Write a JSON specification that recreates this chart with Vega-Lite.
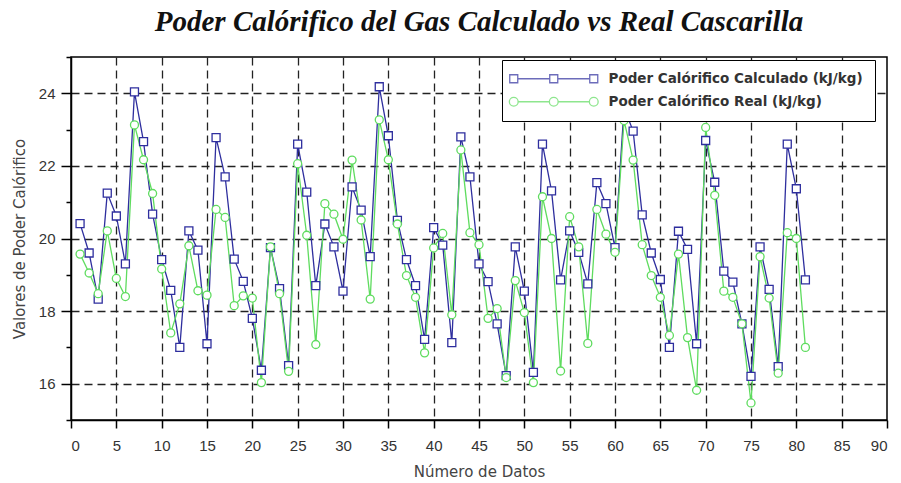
{
  "$schema": "https://vega.github.io/schema/vega-lite/v6.json",
  "autosize": "none",
  "width": 816,
  "height": 363,
  "padding": {"left": 71, "top": 57, "right": 14, "bottom": 63},
  "background": "white",
  "title": {
    "text": "Poder Calórifico del Gas Calculado vs Real Cascarilla",
    "font": "Liberation Serif",
    "fontSize": 29,
    "fontWeight": "bold",
    "fontStyle": "italic",
    "color": "#111",
    "anchor": "middle",
    "offset": 19
  },
  "config": {
    "view": {"stroke": "#000", "strokeWidth": 1.5},
    "axis": {
      "labelFont": "Liberation Sans",
      "labelFontSize": 15,
      "labelColor": "#333",
      "titleFont": "DejaVu Sans",
      "titleFontWeight": "normal",
      "titleColor": "#444",
      "domainColor": "#000",
      "domainWidth": 1.5,
      "tickColor": "#000",
      "tickWidth": 1.5,
      "gridColor": "#222",
      "gridDash": [8, 5],
      "gridWidth": 1.3
    }
  },
  "data": {
    "values": [
      {"n": 1, "serie": "Poder Calórifico Calculado (kJ/kg)", "valor": 20.41},
      {"n": 2, "serie": "Poder Calórifico Calculado (kJ/kg)", "valor": 19.6},
      {"n": 3, "serie": "Poder Calórifico Calculado (kJ/kg)", "valor": 18.33},
      {"n": 4, "serie": "Poder Calórifico Calculado (kJ/kg)", "valor": 21.25},
      {"n": 5, "serie": "Poder Calórifico Calculado (kJ/kg)", "valor": 20.62},
      {"n": 6, "serie": "Poder Calórifico Calculado (kJ/kg)", "valor": 19.3},
      {"n": 7, "serie": "Poder Calórifico Calculado (kJ/kg)", "valor": 24.04},
      {"n": 8, "serie": "Poder Calórifico Calculado (kJ/kg)", "valor": 22.67},
      {"n": 9, "serie": "Poder Calórifico Calculado (kJ/kg)", "valor": 20.67},
      {"n": 10, "serie": "Poder Calórifico Calculado (kJ/kg)", "valor": 19.42},
      {"n": 11, "serie": "Poder Calórifico Calculado (kJ/kg)", "valor": 18.57},
      {"n": 12, "serie": "Poder Calórifico Calculado (kJ/kg)", "valor": 17.0},
      {"n": 13, "serie": "Poder Calórifico Calculado (kJ/kg)", "valor": 20.21},
      {"n": 14, "serie": "Poder Calórifico Calculado (kJ/kg)", "valor": 19.68},
      {"n": 15, "serie": "Poder Calórifico Calculado (kJ/kg)", "valor": 17.1},
      {"n": 16, "serie": "Poder Calórifico Calculado (kJ/kg)", "valor": 22.78},
      {"n": 17, "serie": "Poder Calórifico Calculado (kJ/kg)", "valor": 21.7},
      {"n": 18, "serie": "Poder Calórifico Calculado (kJ/kg)", "valor": 19.43},
      {"n": 19, "serie": "Poder Calórifico Calculado (kJ/kg)", "valor": 18.82},
      {"n": 20, "serie": "Poder Calórifico Calculado (kJ/kg)", "valor": 17.8},
      {"n": 21, "serie": "Poder Calórifico Calculado (kJ/kg)", "valor": 16.37},
      {"n": 22, "serie": "Poder Calórifico Calculado (kJ/kg)", "valor": 19.75},
      {"n": 23, "serie": "Poder Calórifico Calculado (kJ/kg)", "valor": 18.62},
      {"n": 24, "serie": "Poder Calórifico Calculado (kJ/kg)", "valor": 16.5},
      {"n": 25, "serie": "Poder Calórifico Calculado (kJ/kg)", "valor": 22.6},
      {"n": 26, "serie": "Poder Calórifico Calculado (kJ/kg)", "valor": 21.28},
      {"n": 27, "serie": "Poder Calórifico Calculado (kJ/kg)", "valor": 18.7},
      {"n": 28, "serie": "Poder Calórifico Calculado (kJ/kg)", "valor": 20.4},
      {"n": 29, "serie": "Poder Calórifico Calculado (kJ/kg)", "valor": 19.77},
      {"n": 30, "serie": "Poder Calórifico Calculado (kJ/kg)", "valor": 18.55},
      {"n": 31, "serie": "Poder Calórifico Calculado (kJ/kg)", "valor": 21.42},
      {"n": 32, "serie": "Poder Calórifico Calculado (kJ/kg)", "valor": 20.78},
      {"n": 33, "serie": "Poder Calórifico Calculado (kJ/kg)", "valor": 19.5},
      {"n": 34, "serie": "Poder Calórifico Calculado (kJ/kg)", "valor": 24.18},
      {"n": 35, "serie": "Poder Calórifico Calculado (kJ/kg)", "valor": 22.83},
      {"n": 36, "serie": "Poder Calórifico Calculado (kJ/kg)", "valor": 20.5},
      {"n": 37, "serie": "Poder Calórifico Calculado (kJ/kg)", "valor": 19.42},
      {"n": 38, "serie": "Poder Calórifico Calculado (kJ/kg)", "valor": 18.7},
      {"n": 39, "serie": "Poder Calórifico Calculado (kJ/kg)", "valor": 17.22},
      {"n": 40, "serie": "Poder Calórifico Calculado (kJ/kg)", "valor": 20.3},
      {"n": 41, "serie": "Poder Calórifico Calculado (kJ/kg)", "valor": 19.82},
      {"n": 42, "serie": "Poder Calórifico Calculado (kJ/kg)", "valor": 17.13},
      {"n": 43, "serie": "Poder Calórifico Calculado (kJ/kg)", "valor": 22.8},
      {"n": 44, "serie": "Poder Calórifico Calculado (kJ/kg)", "valor": 21.7},
      {"n": 45, "serie": "Poder Calórifico Calculado (kJ/kg)", "valor": 19.3},
      {"n": 46, "serie": "Poder Calórifico Calculado (kJ/kg)", "valor": 18.81},
      {"n": 47, "serie": "Poder Calórifico Calculado (kJ/kg)", "valor": 17.65},
      {"n": 48, "serie": "Poder Calórifico Calculado (kJ/kg)", "valor": 16.22},
      {"n": 49, "serie": "Poder Calórifico Calculado (kJ/kg)", "valor": 19.77},
      {"n": 50, "serie": "Poder Calórifico Calculado (kJ/kg)", "valor": 18.55},
      {"n": 51, "serie": "Poder Calórifico Calculado (kJ/kg)", "valor": 16.31},
      {"n": 52, "serie": "Poder Calórifico Calculado (kJ/kg)", "valor": 22.6},
      {"n": 53, "serie": "Poder Calórifico Calculado (kJ/kg)", "valor": 21.31},
      {"n": 54, "serie": "Poder Calórifico Calculado (kJ/kg)", "valor": 18.86},
      {"n": 55, "serie": "Poder Calórifico Calculado (kJ/kg)", "valor": 20.21},
      {"n": 56, "serie": "Poder Calórifico Calculado (kJ/kg)", "valor": 19.62},
      {"n": 57, "serie": "Poder Calórifico Calculado (kJ/kg)", "valor": 18.75},
      {"n": 58, "serie": "Poder Calórifico Calculado (kJ/kg)", "valor": 21.54},
      {"n": 59, "serie": "Poder Calórifico Calculado (kJ/kg)", "valor": 20.96},
      {"n": 60, "serie": "Poder Calórifico Calculado (kJ/kg)", "valor": 19.75},
      {"n": 61, "serie": "Poder Calórifico Calculado (kJ/kg)", "valor": 23.6},
      {"n": 62, "serie": "Poder Calórifico Calculado (kJ/kg)", "valor": 22.96},
      {"n": 63, "serie": "Poder Calórifico Calculado (kJ/kg)", "valor": 20.65},
      {"n": 64, "serie": "Poder Calórifico Calculado (kJ/kg)", "valor": 19.6},
      {"n": 65, "serie": "Poder Calórifico Calculado (kJ/kg)", "valor": 18.87},
      {"n": 66, "serie": "Poder Calórifico Calculado (kJ/kg)", "valor": 17.0},
      {"n": 67, "serie": "Poder Calórifico Calculado (kJ/kg)", "valor": 20.2},
      {"n": 68, "serie": "Poder Calórifico Calculado (kJ/kg)", "valor": 19.7},
      {"n": 69, "serie": "Poder Calórifico Calculado (kJ/kg)", "valor": 17.1},
      {"n": 70, "serie": "Poder Calórifico Calculado (kJ/kg)", "valor": 22.7},
      {"n": 71, "serie": "Poder Calórifico Calculado (kJ/kg)", "valor": 21.55},
      {"n": 72, "serie": "Poder Calórifico Calculado (kJ/kg)", "valor": 19.1},
      {"n": 73, "serie": "Poder Calórifico Calculado (kJ/kg)", "valor": 18.8},
      {"n": 74, "serie": "Poder Calórifico Calculado (kJ/kg)", "valor": 17.65},
      {"n": 75, "serie": "Poder Calórifico Calculado (kJ/kg)", "valor": 16.2},
      {"n": 76, "serie": "Poder Calórifico Calculado (kJ/kg)", "valor": 19.77},
      {"n": 77, "serie": "Poder Calórifico Calculado (kJ/kg)", "valor": 18.6},
      {"n": 78, "serie": "Poder Calórifico Calculado (kJ/kg)", "valor": 16.47},
      {"n": 79, "serie": "Poder Calórifico Calculado (kJ/kg)", "valor": 22.6},
      {"n": 80, "serie": "Poder Calórifico Calculado (kJ/kg)", "valor": 21.37},
      {"n": 81, "serie": "Poder Calórifico Calculado (kJ/kg)", "valor": 18.86},
      {"n": 1, "serie": "Poder Calórifico Real (kJ/kg)", "valor": 19.57},
      {"n": 2, "serie": "Poder Calórifico Real (kJ/kg)", "valor": 19.05},
      {"n": 3, "serie": "Poder Calórifico Real (kJ/kg)", "valor": 18.48},
      {"n": 4, "serie": "Poder Calórifico Real (kJ/kg)", "valor": 20.21},
      {"n": 5, "serie": "Poder Calórifico Real (kJ/kg)", "valor": 18.9},
      {"n": 6, "serie": "Poder Calórifico Real (kJ/kg)", "valor": 18.4},
      {"n": 7, "serie": "Poder Calórifico Real (kJ/kg)", "valor": 23.13},
      {"n": 8, "serie": "Poder Calórifico Real (kJ/kg)", "valor": 22.17},
      {"n": 9, "serie": "Poder Calórifico Real (kJ/kg)", "valor": 21.24},
      {"n": 10, "serie": "Poder Calórifico Real (kJ/kg)", "valor": 19.16},
      {"n": 11, "serie": "Poder Calórifico Real (kJ/kg)", "valor": 17.4},
      {"n": 12, "serie": "Poder Calórifico Real (kJ/kg)", "valor": 18.2},
      {"n": 13, "serie": "Poder Calórifico Real (kJ/kg)", "valor": 19.8},
      {"n": 14, "serie": "Poder Calórifico Real (kJ/kg)", "valor": 18.56},
      {"n": 15, "serie": "Poder Calórifico Real (kJ/kg)", "valor": 18.44},
      {"n": 16, "serie": "Poder Calórifico Real (kJ/kg)", "valor": 20.8},
      {"n": 17, "serie": "Poder Calórifico Real (kJ/kg)", "valor": 20.58},
      {"n": 18, "serie": "Poder Calórifico Real (kJ/kg)", "valor": 18.15},
      {"n": 19, "serie": "Poder Calórifico Real (kJ/kg)", "valor": 18.42},
      {"n": 20, "serie": "Poder Calórifico Real (kJ/kg)", "valor": 18.36},
      {"n": 21, "serie": "Poder Calórifico Real (kJ/kg)", "valor": 16.03},
      {"n": 22, "serie": "Poder Calórifico Real (kJ/kg)", "valor": 19.77},
      {"n": 23, "serie": "Poder Calórifico Real (kJ/kg)", "valor": 18.48},
      {"n": 24, "serie": "Poder Calórifico Real (kJ/kg)", "valor": 16.34},
      {"n": 25, "serie": "Poder Calórifico Real (kJ/kg)", "valor": 22.06},
      {"n": 26, "serie": "Poder Calórifico Real (kJ/kg)", "valor": 20.09},
      {"n": 27, "serie": "Poder Calórifico Real (kJ/kg)", "valor": 17.08},
      {"n": 28, "serie": "Poder Calórifico Real (kJ/kg)", "valor": 20.96},
      {"n": 29, "serie": "Poder Calórifico Real (kJ/kg)", "valor": 20.67},
      {"n": 30, "serie": "Poder Calórifico Real (kJ/kg)", "valor": 19.98},
      {"n": 31, "serie": "Poder Calórifico Real (kJ/kg)", "valor": 22.16},
      {"n": 32, "serie": "Poder Calórifico Real (kJ/kg)", "valor": 20.51},
      {"n": 33, "serie": "Poder Calórifico Real (kJ/kg)", "valor": 18.33},
      {"n": 34, "serie": "Poder Calórifico Real (kJ/kg)", "valor": 23.27},
      {"n": 35, "serie": "Poder Calórifico Real (kJ/kg)", "valor": 22.17},
      {"n": 36, "serie": "Poder Calórifico Real (kJ/kg)", "valor": 20.4},
      {"n": 37, "serie": "Poder Calórifico Real (kJ/kg)", "valor": 18.98},
      {"n": 38, "serie": "Poder Calórifico Real (kJ/kg)", "valor": 18.38},
      {"n": 39, "serie": "Poder Calórifico Real (kJ/kg)", "valor": 16.85},
      {"n": 40, "serie": "Poder Calórifico Real (kJ/kg)", "valor": 19.74},
      {"n": 41, "serie": "Poder Calórifico Real (kJ/kg)", "valor": 20.14},
      {"n": 42, "serie": "Poder Calórifico Real (kJ/kg)", "valor": 17.9},
      {"n": 43, "serie": "Poder Calórifico Real (kJ/kg)", "valor": 22.44},
      {"n": 44, "serie": "Poder Calórifico Real (kJ/kg)", "valor": 20.16},
      {"n": 45, "serie": "Poder Calórifico Real (kJ/kg)", "valor": 19.83},
      {"n": 46, "serie": "Poder Calórifico Real (kJ/kg)", "valor": 17.8},
      {"n": 47, "serie": "Poder Calórifico Real (kJ/kg)", "valor": 18.07},
      {"n": 48, "serie": "Poder Calórifico Real (kJ/kg)", "valor": 16.17},
      {"n": 49, "serie": "Poder Calórifico Real (kJ/kg)", "valor": 18.84},
      {"n": 50, "serie": "Poder Calórifico Real (kJ/kg)", "valor": 17.96},
      {"n": 51, "serie": "Poder Calórifico Real (kJ/kg)", "valor": 16.03},
      {"n": 52, "serie": "Poder Calórifico Real (kJ/kg)", "valor": 21.15},
      {"n": 53, "serie": "Poder Calórifico Real (kJ/kg)", "valor": 20.0},
      {"n": 54, "serie": "Poder Calórifico Real (kJ/kg)", "valor": 16.35},
      {"n": 55, "serie": "Poder Calórifico Real (kJ/kg)", "valor": 20.6},
      {"n": 56, "serie": "Poder Calórifico Real (kJ/kg)", "valor": 19.77},
      {"n": 57, "serie": "Poder Calórifico Real (kJ/kg)", "valor": 17.11},
      {"n": 58, "serie": "Poder Calórifico Real (kJ/kg)", "valor": 20.8},
      {"n": 59, "serie": "Poder Calórifico Real (kJ/kg)", "valor": 20.12},
      {"n": 60, "serie": "Poder Calórifico Real (kJ/kg)", "valor": 19.62},
      {"n": 61, "serie": "Poder Calórifico Real (kJ/kg)", "valor": 23.25},
      {"n": 62, "serie": "Poder Calórifico Real (kJ/kg)", "valor": 22.16},
      {"n": 63, "serie": "Poder Calórifico Real (kJ/kg)", "valor": 19.83},
      {"n": 64, "serie": "Poder Calórifico Real (kJ/kg)", "valor": 18.98},
      {"n": 65, "serie": "Poder Calórifico Real (kJ/kg)", "valor": 18.38},
      {"n": 66, "serie": "Poder Calórifico Real (kJ/kg)", "valor": 17.33},
      {"n": 67, "serie": "Poder Calórifico Real (kJ/kg)", "valor": 19.57},
      {"n": 68, "serie": "Poder Calórifico Real (kJ/kg)", "valor": 17.27},
      {"n": 69, "serie": "Poder Calórifico Real (kJ/kg)", "valor": 15.82},
      {"n": 70, "serie": "Poder Calórifico Real (kJ/kg)", "valor": 23.06},
      {"n": 71, "serie": "Poder Calórifico Real (kJ/kg)", "valor": 21.19},
      {"n": 72, "serie": "Poder Calórifico Real (kJ/kg)", "valor": 18.55},
      {"n": 73, "serie": "Poder Calórifico Real (kJ/kg)", "valor": 18.38},
      {"n": 74, "serie": "Poder Calórifico Real (kJ/kg)", "valor": 17.65},
      {"n": 75, "serie": "Poder Calórifico Real (kJ/kg)", "valor": 15.47},
      {"n": 76, "serie": "Poder Calórifico Real (kJ/kg)", "valor": 19.5},
      {"n": 77, "serie": "Poder Calórifico Real (kJ/kg)", "valor": 18.36},
      {"n": 78, "serie": "Poder Calórifico Real (kJ/kg)", "valor": 16.29},
      {"n": 79, "serie": "Poder Calórifico Real (kJ/kg)", "valor": 20.16},
      {"n": 80, "serie": "Poder Calórifico Real (kJ/kg)", "valor": 20.0},
      {"n": 81, "serie": "Poder Calórifico Real (kJ/kg)", "valor": 17.0}
    ]
  },
  "encoding": {
    "x": {
      "field": "n",
      "type": "quantitative",
      "scale": {"domain": [0, 90], "nice": false, "zero": false},
      "axis": {
        "title": "Número de Datos",
        "titleFontSize": 15,
        "values": [0, 5, 10, 15, 20, 25, 30, 35, 40, 45, 50, 55, 60, 65, 70, 75, 80, 85, 90],
        "grid": true,
        "gridOpacity": {"condition": {"test": "datum.value > 0 && datum.value < 90", "value": 1}, "value": 0},
        "tickSize": 8,
        "labelPadding": 10,
        "titlePadding": 11
      }
    },
    "y": {
      "field": "valor",
      "type": "quantitative",
      "scale": {"domain": [15, 25], "nice": false, "zero": false},
      "axis": {
        "title": "Valores de Poder Calórifico",
        "titleFontSize": 15,
        "values": [15, 16, 17, 18, 19, 20, 21, 22, 23, 24, 25],
        "labelExpr": "datum.value % 2 == 0 ? datum.label : ''",
        "grid": true,
        "gridOpacity": {"condition": {"test": "datum.value % 2 == 0", "value": 1}, "value": 0},
        "tickSize": {"condition": {"test": "datum.value % 2 == 0", "value": 10}, "value": 5},
        "labelPadding": 6,
        "titlePadding": 11
      }
    }
  },
  "layer": [
    {
      "transform": [{"filter": "datum.serie === 'Poder Calórifico Calculado (kJ/kg)'"}],
      "mark": {"type": "line", "stroke": "#2e2e9e", "strokeWidth": 1.3}
    },
    {
      "transform": [{"filter": "datum.serie === 'Poder Calórifico Real (kJ/kg)'"}],
      "mark": {"type": "line", "stroke": "#5fdc5f", "strokeWidth": 1.3}
    },
    {
      "transform": [{"filter": "datum.serie === 'Poder Calórifico Calculado (kJ/kg)'"}],
      "mark": {"type": "point", "shape": "square", "filled": false, "fill": "white", "fillOpacity": 1, "stroke": "#2e2e9e", "size": 64, "strokeWidth": 1.3, "opacity": 1}
    },
    {
      "transform": [{"filter": "datum.serie === 'Poder Calórifico Real (kJ/kg)'"}],
      "mark": {"type": "point", "shape": "circle", "filled": false, "fill": "white", "fillOpacity": 1, "stroke": "#5fdc5f", "size": 64, "strokeWidth": 1.3, "opacity": 1}
    },
    {
      "mark": {"type": "point", "filled": false, "size": 0, "strokeWidth": 0},
      "encoding": {
        "stroke": {
          "field": "serie",
          "type": "nominal",
          "scale": {
            "domain": ["Poder Calórifico Calculado (kJ/kg)", "Poder Calórifico Real (kJ/kg)"],
            "range": ["#2e2e9e", "#5fdc5f"]
          },
          "legend": {
            "title": null,
            "orient": "none",
            "legendX": 431,
            "legendY": 3,
            "fillColor": "white",
            "strokeColor": "#000",
            "padding": 12,
            "rowPadding": 8,
            "symbolSize": 64,
            "symbolStrokeWidth": 1.3,
            "symbolOffset": 33,
            "labelOffset": 48,
            "labelFont": "DejaVu Sans",
            "labelFontSize": 13.5,
            "labelFontWeight": "bold",
            "labelColor": "#333",
            "labelLimit": 400
          }
        },
        "shape": {
          "field": "serie",
          "type": "nominal",
          "scale": {
            "domain": ["Poder Calórifico Calculado (kJ/kg)", "Poder Calórifico Real (kJ/kg)"],
            "range": [
              "M-11,-1H-9V1H-11Z M-9,0H-1 M-1,-1H1V1H-1Z M1,0H9 M9,-1H11V1H9Z",
              "M-11.1,0A1.1,1.1 0 1,0 -8.9,0A1.1,1.1 0 1,0 -11.1,0Z M-8.9,0H-1.1 M-1.1,0A1.1,1.1 0 1,0 1.1,0A1.1,1.1 0 1,0 -1.1,0Z M1.1,0H8.9 M8.9,0A1.1,1.1 0 1,0 11.1,0A1.1,1.1 0 1,0 8.9,0Z"
            ]
          },
          "legend": {
            "title": null,
            "orient": "none",
            "legendX": 431,
            "legendY": 3,
            "fillColor": "white",
            "strokeColor": "#000",
            "padding": 12,
            "rowPadding": 8,
            "symbolSize": 64,
            "symbolStrokeWidth": 1.3,
            "symbolOffset": 33,
            "labelOffset": 48,
            "labelFont": "DejaVu Sans",
            "labelFontSize": 13.5,
            "labelFontWeight": "bold",
            "labelColor": "#333",
            "labelLimit": 400
          }
        }
      }
    }
  ]
}
